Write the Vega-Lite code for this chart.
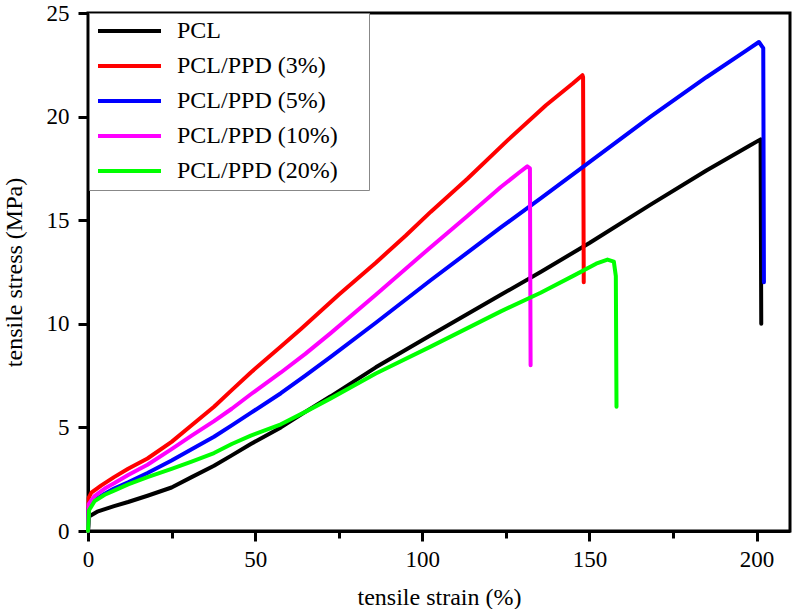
{
  "$schema": "https://vega.github.io/schema/vega-lite/v6.json",
  "autosize": {"type": "none"},
  "padding": {"left": 88, "top": 13, "right": 2, "bottom": 78},
  "width": 702,
  "height": 518,
  "background": "white",
  "config": {
    "view": {"stroke": "black", "strokeWidth": 3},
    "font": "Liberation Serif",
    "axis": {
      "labelFont": "Liberation Serif",
      "titleFont": "Liberation Serif",
      "labelFontSize": 23,
      "titleFontSize": 24,
      "titleFontWeight": "normal",
      "labelColor": "black",
      "titleColor": "black",
      "domainColor": "black",
      "domainWidth": 3,
      "tickColor": "black",
      "tickWidth": 3,
      "grid": false,
      "labelFlush": false
    }
  },
  "data": {
    "values": [
      {"s": "PCL", "x": 0, "y": 0},
      {"s": "PCL", "x": 0.3, "y": 0.7},
      {"s": "PCL", "x": 3, "y": 0.95},
      {"s": "PCL", "x": 7.8, "y": 1.2},
      {"s": "PCL", "x": 12, "y": 1.4},
      {"s": "PCL", "x": 17.8, "y": 1.7},
      {"s": "PCL", "x": 25, "y": 2.1},
      {"s": "PCL", "x": 31, "y": 2.6},
      {"s": "PCL", "x": 37.7, "y": 3.15},
      {"s": "PCL", "x": 43, "y": 3.65},
      {"s": "PCL", "x": 48.7, "y": 4.2},
      {"s": "PCL", "x": 57.7, "y": 5.0},
      {"s": "PCL", "x": 65, "y": 5.75},
      {"s": "PCL", "x": 72.6, "y": 6.5},
      {"s": "PCL", "x": 86.1, "y": 7.9},
      {"s": "PCL", "x": 102.5, "y": 9.45},
      {"s": "PCL", "x": 123.5, "y": 11.4},
      {"s": "PCL", "x": 135.4, "y": 12.5},
      {"s": "PCL", "x": 150, "y": 13.9},
      {"s": "PCL", "x": 168.3, "y": 15.75},
      {"s": "PCL", "x": 185, "y": 17.4},
      {"s": "PCL", "x": 198, "y": 18.6},
      {"s": "PCL", "x": 201.2, "y": 18.9},
      {"s": "PCL", "x": 201.4, "y": 10.0},

      {"s": "PCL/PPD (3%)", "x": 0, "y": 0},
      {"s": "PCL/PPD (3%)", "x": 0.2, "y": 1.6},
      {"s": "PCL/PPD (3%)", "x": 1, "y": 1.85},
      {"s": "PCL/PPD (3%)", "x": 4, "y": 2.2},
      {"s": "PCL/PPD (3%)", "x": 7.8, "y": 2.6},
      {"s": "PCL/PPD (3%)", "x": 12, "y": 3.0},
      {"s": "PCL/PPD (3%)", "x": 17.8, "y": 3.5},
      {"s": "PCL/PPD (3%)", "x": 25, "y": 4.3},
      {"s": "PCL/PPD (3%)", "x": 31, "y": 5.1},
      {"s": "PCL/PPD (3%)", "x": 37.7, "y": 6.0},
      {"s": "PCL/PPD (3%)", "x": 43, "y": 6.8},
      {"s": "PCL/PPD (3%)", "x": 48.7, "y": 7.65},
      {"s": "PCL/PPD (3%)", "x": 57.7, "y": 8.9},
      {"s": "PCL/PPD (3%)", "x": 63.7, "y": 9.75},
      {"s": "PCL/PPD (3%)", "x": 75, "y": 11.4},
      {"s": "PCL/PPD (3%)", "x": 86.1, "y": 12.95},
      {"s": "PCL/PPD (3%)", "x": 95, "y": 14.25},
      {"s": "PCL/PPD (3%)", "x": 102.5, "y": 15.4},
      {"s": "PCL/PPD (3%)", "x": 113.5, "y": 17.0},
      {"s": "PCL/PPD (3%)", "x": 125.5, "y": 18.85},
      {"s": "PCL/PPD (3%)", "x": 137, "y": 20.55},
      {"s": "PCL/PPD (3%)", "x": 145, "y": 21.6},
      {"s": "PCL/PPD (3%)", "x": 147.9, "y": 22.0},
      {"s": "PCL/PPD (3%)", "x": 148.1, "y": 21.9},
      {"s": "PCL/PPD (3%)", "x": 148.3, "y": 12.0},

      {"s": "PCL/PPD (5%)", "x": 0, "y": 0},
      {"s": "PCL/PPD (5%)", "x": 0.2, "y": 1.1},
      {"s": "PCL/PPD (5%)", "x": 2, "y": 1.5},
      {"s": "PCL/PPD (5%)", "x": 5, "y": 1.8},
      {"s": "PCL/PPD (5%)", "x": 7.8, "y": 2.05},
      {"s": "PCL/PPD (5%)", "x": 12, "y": 2.35},
      {"s": "PCL/PPD (5%)", "x": 17.8, "y": 2.8},
      {"s": "PCL/PPD (5%)", "x": 25, "y": 3.4},
      {"s": "PCL/PPD (5%)", "x": 31, "y": 3.95},
      {"s": "PCL/PPD (5%)", "x": 37.7, "y": 4.55},
      {"s": "PCL/PPD (5%)", "x": 43, "y": 5.1},
      {"s": "PCL/PPD (5%)", "x": 48.7, "y": 5.7},
      {"s": "PCL/PPD (5%)", "x": 57.7, "y": 6.65},
      {"s": "PCL/PPD (5%)", "x": 65, "y": 7.5},
      {"s": "PCL/PPD (5%)", "x": 72.6, "y": 8.4},
      {"s": "PCL/PPD (5%)", "x": 86.1, "y": 10.05},
      {"s": "PCL/PPD (5%)", "x": 102.5, "y": 12.1},
      {"s": "PCL/PPD (5%)", "x": 123.5, "y": 14.65},
      {"s": "PCL/PPD (5%)", "x": 135.4, "y": 16.05},
      {"s": "PCL/PPD (5%)", "x": 150, "y": 17.8},
      {"s": "PCL/PPD (5%)", "x": 168.3, "y": 20.0},
      {"s": "PCL/PPD (5%)", "x": 185, "y": 21.9},
      {"s": "PCL/PPD (5%)", "x": 197, "y": 23.2},
      {"s": "PCL/PPD (5%)", "x": 200.7, "y": 23.6},
      {"s": "PCL/PPD (5%)", "x": 202, "y": 23.3},
      {"s": "PCL/PPD (5%)", "x": 202.2, "y": 12.0},

      {"s": "PCL/PPD (10%)", "x": 0, "y": 0},
      {"s": "PCL/PPD (10%)", "x": 0.2, "y": 1.3},
      {"s": "PCL/PPD (10%)", "x": 2, "y": 1.7},
      {"s": "PCL/PPD (10%)", "x": 5, "y": 2.05},
      {"s": "PCL/PPD (10%)", "x": 7.8, "y": 2.3},
      {"s": "PCL/PPD (10%)", "x": 12, "y": 2.7},
      {"s": "PCL/PPD (10%)", "x": 17.8, "y": 3.2},
      {"s": "PCL/PPD (10%)", "x": 25, "y": 3.95},
      {"s": "PCL/PPD (10%)", "x": 31, "y": 4.6},
      {"s": "PCL/PPD (10%)", "x": 37.7, "y": 5.3},
      {"s": "PCL/PPD (10%)", "x": 43, "y": 5.9},
      {"s": "PCL/PPD (10%)", "x": 48.7, "y": 6.6},
      {"s": "PCL/PPD (10%)", "x": 57.7, "y": 7.65},
      {"s": "PCL/PPD (10%)", "x": 65, "y": 8.55},
      {"s": "PCL/PPD (10%)", "x": 72.6, "y": 9.55},
      {"s": "PCL/PPD (10%)", "x": 86.1, "y": 11.4},
      {"s": "PCL/PPD (10%)", "x": 102.5, "y": 13.7},
      {"s": "PCL/PPD (10%)", "x": 113.5, "y": 15.2},
      {"s": "PCL/PPD (10%)", "x": 123.5, "y": 16.6},
      {"s": "PCL/PPD (10%)", "x": 129, "y": 17.3},
      {"s": "PCL/PPD (10%)", "x": 131.4, "y": 17.6},
      {"s": "PCL/PPD (10%)", "x": 132.2, "y": 17.5},
      {"s": "PCL/PPD (10%)", "x": 132.4, "y": 8.0},

      {"s": "PCL/PPD (20%)", "x": 0, "y": 0},
      {"s": "PCL/PPD (20%)", "x": 0.3, "y": 1.0},
      {"s": "PCL/PPD (20%)", "x": 2, "y": 1.45},
      {"s": "PCL/PPD (20%)", "x": 5, "y": 1.75},
      {"s": "PCL/PPD (20%)", "x": 7.8, "y": 1.95},
      {"s": "PCL/PPD (20%)", "x": 12, "y": 2.25},
      {"s": "PCL/PPD (20%)", "x": 17.8, "y": 2.6},
      {"s": "PCL/PPD (20%)", "x": 25, "y": 3.0},
      {"s": "PCL/PPD (20%)", "x": 31, "y": 3.35},
      {"s": "PCL/PPD (20%)", "x": 37.7, "y": 3.76},
      {"s": "PCL/PPD (20%)", "x": 43, "y": 4.2},
      {"s": "PCL/PPD (20%)", "x": 48.7, "y": 4.6},
      {"s": "PCL/PPD (20%)", "x": 57.7, "y": 5.15},
      {"s": "PCL/PPD (20%)", "x": 65, "y": 5.75},
      {"s": "PCL/PPD (20%)", "x": 72.6, "y": 6.4},
      {"s": "PCL/PPD (20%)", "x": 86.1, "y": 7.6},
      {"s": "PCL/PPD (20%)", "x": 102.5, "y": 8.9},
      {"s": "PCL/PPD (20%)", "x": 123.5, "y": 10.6},
      {"s": "PCL/PPD (20%)", "x": 135.4, "y": 11.5},
      {"s": "PCL/PPD (20%)", "x": 145, "y": 12.3},
      {"s": "PCL/PPD (20%)", "x": 152, "y": 12.9},
      {"s": "PCL/PPD (20%)", "x": 155.4, "y": 13.1},
      {"s": "PCL/PPD (20%)", "x": 157.3, "y": 13.0},
      {"s": "PCL/PPD (20%)", "x": 157.9, "y": 12.3},
      {"s": "PCL/PPD (20%)", "x": 158.1, "y": 6.0}
    ]
  },
  "mark": {"type": "line", "strokeWidth": 4, "strokeJoin": "round", "strokeCap": "round"},
  "encoding": {
    "x": {
      "field": "x",
      "type": "quantitative",
      "scale": {"domain": [0, 210], "nice": false, "zero": false},
      "axis": {
        "title": "tensile strain (%)",
        "values": [0, 25, 50, 75, 100, 125, 150, 175, 200],
        "labelExpr": "datum.value % 50 === 0 ? datum.label : ''",
        "tickSize": {"condition": {"test": "datum.value % 50 !== 0", "value": 7}, "value": 10},
        "labelPadding": 7,
        "titlePadding": 14
      }
    },
    "y": {
      "field": "y",
      "type": "quantitative",
      "scale": {"domain": [0, 25], "nice": false},
      "axis": {
        "title": "tensile stress (MPa)",
        "values": [0, 5, 10, 15, 20, 25],
        "tickSize": 10,
        "labelPadding": 9,
        "titlePadding": 20
      }
    },
    "color": {
      "field": "s",
      "type": "nominal",
      "scale": {
        "domain": ["PCL", "PCL/PPD (3%)", "PCL/PPD (5%)", "PCL/PPD (10%)", "PCL/PPD (20%)"],
        "range": ["#000000", "#ff0000", "#0000ff", "#ff00ff", "#00ff00"]
      },
      "legend": {
        "title": null,
        "orient": "none",
        "legendX": 1,
        "legendY": 0,
        "symbolType": "stroke",
        "symbolSize": 3969,
        "symbolStrokeWidth": 4,
        "clipHeight": 22,
        "rowPadding": 11,
        "padding": 7,
        "labelOffset": 14,
        "labelFont": "Liberation Serif",
        "labelFontSize": 24,
        "labelColor": "black",
        "labelLimit": 400,
        "labelExpr": "datum.label + '\u00a0\u00a0\u00a0\u00a0\u200b'",
        "strokeColor": "#888888",
        "fillColor": "white"
      }
    }
  }
}
